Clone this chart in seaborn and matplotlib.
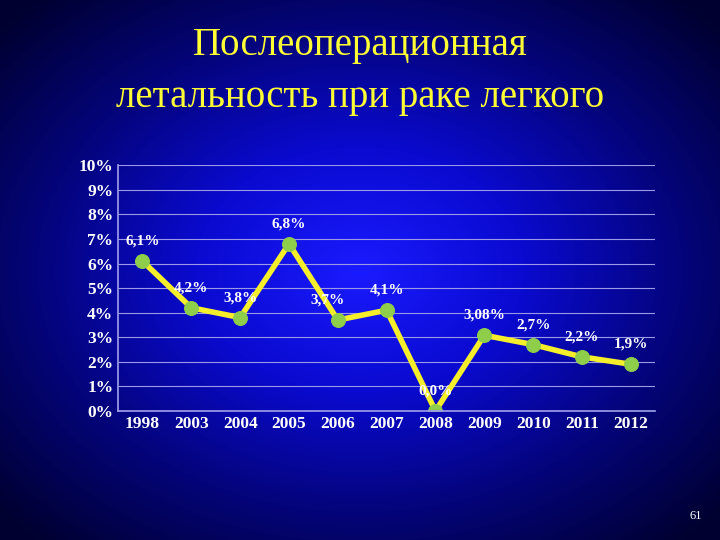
import numpy as np
import pandas as pd
import seaborn as sns
import matplotlib.pyplot as plt

years = ["1998", "2003", "2004", "2005", "2006", "2007", "2008", "2009", "2010", "2011", "2012"]
mortality = [6.1, 4.2, 3.8, 6.8, 3.7, 4.1, 0.0, 3.08, 2.7, 2.2, 1.9]
point_labels = ["6,1%", "4,2%", "3,8%", "6,8%", "3,7%", "4,1%", "0,0%", "3,08%", "2,7%", "2,2%", "1,9%"]
label_dx = [0, 0, 0, 0, -0.2, 0, 0, 0, 0, 0, 0]

sns.set_theme(style="white")
plt.rcParams["font.family"] = ["Liberation Serif", "DejaVu Serif"]

fig = plt.figure(figsize=(7.2, 5.4), dpi=100)

# radial blue background
bg = fig.add_axes([0, 0, 1, 1])
yy, xx = np.mgrid[-1:1:300j, -1:1:400j]
r = np.sqrt(xx**2 + yy**2)
bg.imshow(np.clip(r / 1.35, 0, 1), cmap=plt.matplotlib.colors.LinearSegmentedColormap.from_list(
    "bl", ["#1a1aff", "#0a0ad0", "#04047a", "#000030"]), aspect="auto", extent=[0, 1, 0, 1])
bg.axis("off")

fig.text(0.5, 0.915, "Послеоперационная", ha="center", va="center", color="#ffff33", fontsize=28)
fig.text(0.5, 0.82, "летальность при раке легкого", ha="center", va="center", color="#ffff33", fontsize=28)
fig.text(0.975, 0.045, "61", ha="right", va="center", color="white", fontsize=9)

ax = fig.add_axes([0.164, 0.239, 0.746, 0.455])
ax.set_facecolor("none")
df = pd.DataFrame({"year": years, "value": mortality})
sns.lineplot(data=df, x="year", y="value", ax=ax, color="#f5ee2a", linewidth=4, sort=False,
             marker="o", markersize=10, markerfacecolor="#8fce4a", markeredgecolor="#8fce4a")
for i, (v, lab) in enumerate(zip(mortality, point_labels)):
    ax.text(i + label_dx[i], v + 0.55, lab, ha="center", va="bottom", color="white",
            fontsize=11, fontweight="bold")

ax.set_ylim(0, 10)
ax.set_xlim(-0.5, len(years) - 0.5)
ax.set_yticks(range(0, 11))
ax.set_yticklabels([f"{t}%" for t in range(0, 11)])
ax.tick_params(axis="both", colors="white", labelsize=12.5, length=0)
for lab in ax.get_xticklabels() + ax.get_yticklabels():
    lab.set_fontweight("bold")
ax.grid(axis="y", color="#9a9ae8", linewidth=0.8)
for s in ["top", "right"]:
    ax.spines[s].set_visible(False)
ax.spines["left"].set_color("#9a9ae8")
ax.spines["bottom"].set_color("#9a9ae8")
ax.set_xlabel("")
ax.set_ylabel("")

fig.savefig("out.png", dpi=100)
